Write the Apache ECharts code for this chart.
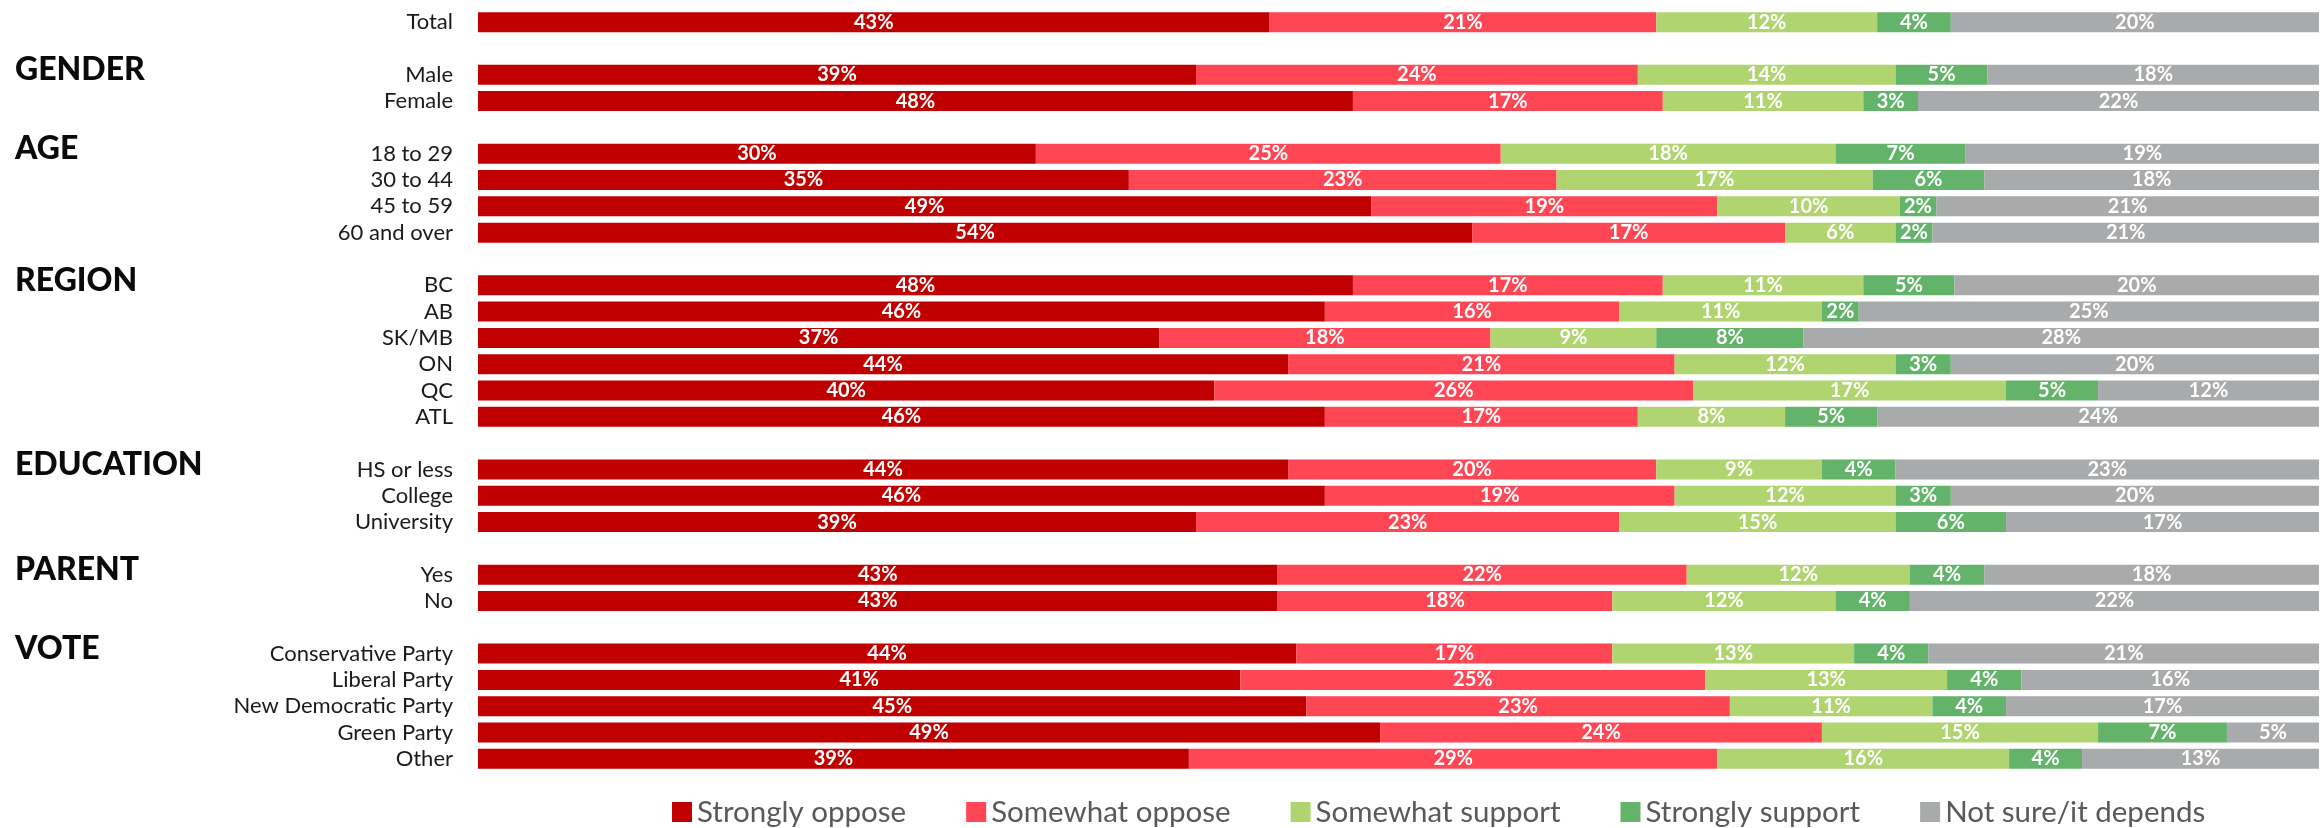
<!DOCTYPE html>
<html>
<head>
<meta charset="utf-8">
<script src="https://cdn.jsdelivr.net/npm/echarts@6/dist/echarts.min.js"></script>
<style>
html,body{margin:0;padding:0;background:#fff;}
#chart{width:2321px;height:828px;}
</style>
</head>
<body>
<div id="chart"></div>
<script>
// ---- Data ----
const categories = ['Total','',
  'Male','Female','',
  '18 to 29','30 to 44','45 to 59','60 and over','',
  'BC','AB','SK/MB','ON','QC','ATL','',
  'HS or less','College','University','',
  'Yes','No','',
  'Conservative Party','Liberal Party','New Democratic Party','Green Party','Other'];

const stronglyOppose  = [43,null, 39,48,null, 30,35,49,54,null, 48,46,37,44,40,46,null, 44,46,39,null, 43,43,null, 44,41,45,49,39];
const somewhatOppose  = [21,null, 24,17,null, 25,23,19,17,null, 17,16,18,21,26,17,null, 20,19,23,null, 22,18,null, 17,25,23,24,29];
const somewhatSupport = [12,null, 14,11,null, 18,17,10,6,null,  11,11,9,12,17,8,null,   9,12,15,null,  12,12,null, 13,13,11,15,16];
const stronglySupport = [4,null,  5,3,null,   7,6,2,2,null,     5,2,8,3,5,5,null,       4,3,6,null,    4,4,null,   4,4,4,7,4];
const notSure         = [20,null, 18,22,null, 19,18,21,21,null, 20,25,28,20,12,24,null, 23,20,17,null, 18,22,null, 21,16,17,5,13];

const seriesNames = ['Strongly oppose','Somewhat oppose','Somewhat support','Strongly support','Not sure/it depends'];
const groupHeaders = ['GENDER','AGE','REGION','EDUCATION','PARENT','VOTE'];
const groupFirstRows = ['Male','18 to 29','BC','HS or less','Yes','Conservative Party'];

// ---- Styles ----
const colors = ['#C00000','#FF4654','#B0D46F','#63B46A','#A8AAAB'];
const FONT = 'Lato, "Liberation Sans", sans-serif';

const allValues = [stronglyOppose, somewhatOppose, somewhatSupport, stronglySupport, notSure];
// Each row is a 100% bar: segment length is the share of the row total
const rowTotals = categories.map((c, i) => allValues.reduce((s, arr) => s + (arr[i] == null ? 0 : arr[i]), 0));

const chart = echarts.init(document.getElementById('chart'), null, {renderer: 'canvas'});

const series = allValues.map((arr, k) => ({
  name: seriesNames[k],
  type: 'bar',
  stack: 'total',
  barWidth: 20,
  itemStyle: {color: colors[k]},
  label: {
    show: true,
    position: 'inside',
    color: '#ffffff',
    fontFamily: FONT,
    fontWeight: 'bold',
    fontSize: 20,
    formatter: p => arr[p.dataIndex] + '%'
  },
  emphasis: {disabled: true},
  data: arr.map((v, i) => v == null ? null : v / rowTotals[i] * 100)
}));

chart.setOption({
  animation: false,
  backgroundColor: '#ffffff',
  grid: {left: 478, right: 2, top: 9, bottom: 56, containLabel: false},
  xAxis: {type: 'value', min: 0, max: 100, show: false},
  yAxis: {
    type: 'category',
    inverse: true,
    data: categories,
    axisLine: {show: false},
    axisTick: {show: false},
    splitLine: {show: false},
    axisLabel: {
      interval: 0,
      margin: 25,
      fontFamily: FONT,
      fontSize: 22,
      color: '#1a1a1a'
    }
  },
  legend: {
    left: 667,
    top: 792,
    itemWidth: 20,
    itemHeight: 20,
    itemGap: 60,
    icon: 'rect',
    data: seriesNames,
    textStyle: {fontFamily: FONT, fontSize: 29.5, color: '#595959'}
  },
  series: series
});

// Group headers placed at their first row via the category axis
const graphics = groupHeaders.map((h, i) => {
  const y = chart.convertToPixel({yAxisIndex: 0}, groupFirstRows[i]);
  return {
    type: 'text',
    left: 15,
    top: y - 21,
    style: {
      text: h,
      fontFamily: FONT,
      fontWeight: 900,
      fontSize: 32,
      fill: '#0a0a0a'
    }
  };
});
chart.setOption({graphic: graphics});
</script>
</body>
</html>
